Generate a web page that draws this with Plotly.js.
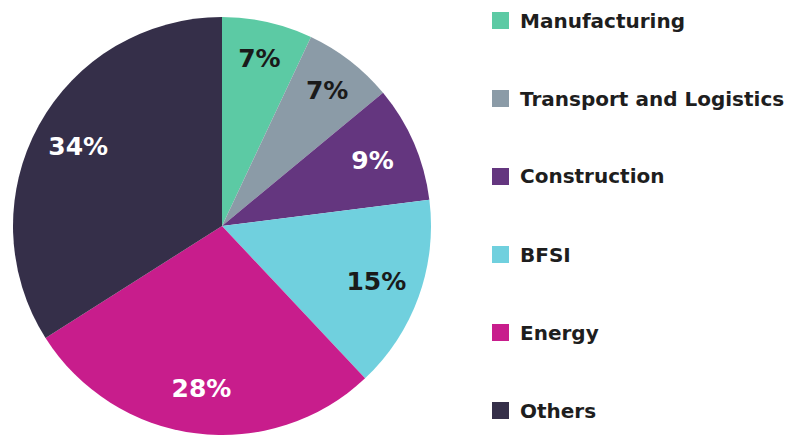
<!DOCTYPE html>
<html><head><meta charset="utf-8">
<script src="https://cdn.plot.ly/plotly-3.0.1.min.js"></script>
<style>html,body{margin:0;padding:0;background:#fff}#chart{width:797px;height:435px}</style>
</head><body><div id="chart"></div>
<script>
const categories = ["Manufacturing","Transport and Logistics","Construction","BFSI","Energy","Others"];
const shares = [7,7,9,15,28,34];
const colors = ["#5ccaa4","#8b9ba7","#64367f","#70d0de","#c81d8c","#352f49"];
const textColors = ["#1a1a1a","#1a1a1a","#ffffff","#1a1a1a","#ffffff","#ffffff"];

const dom = {x: [12/797, 432/797], y: [0, 1 - 17/435]};
const base = {
  type: "pie", labels: categories, values: shares, sort: false,
  direction: "clockwise", rotation: 0, domain: dom, showlegend: false
};
const pie = Object.assign({}, base, {
  marker: {colors: colors, line: {width: 0}},
  textinfo: "none", hoverinfo: "label+percent"
});
const labelRing = Object.assign({}, base, {
  hole: 0.57,
  marker: {colors: categories.map(() => "rgba(0,0,0,0)"), line: {width: 0}},
  texttemplate: "%{value}%",
  textposition: "inside",
  insidetextorientation: "horizontal",
  textfont: {family: "DejaVu Sans", size: 25, weight: 700, color: textColors},
  hoverinfo: "skip"
});

const shapes = [], annotations = [];
const legTop = 20.5, legStep = 78;
categories.forEach((c, i) => {
  const yc = legTop + i * legStep;
  shapes.push({type: "rect", xref: "paper", yref: "paper",
    x0: 492/797, x1: 509/797, y0: 1 - (yc - 8.5)/435, y1: 1 - (yc + 8.5)/435,
    fillcolor: colors[i], line: {width: 0}});
  annotations.push({xref: "paper", yref: "paper", x: 518/797, y: 1 - yc/435,
    xanchor: "left", yanchor: "middle", showarrow: false, text: c,
    font: {family: "DejaVu Sans", size: 20, weight: 700, color: "#1e1e1e"}});
});

Plotly.newPlot("chart", [pie, labelRing], {
  width: 797, height: 435,
  margin: {l: 0, r: 0, t: 0, b: 0},
  paper_bgcolor: "#ffffff",
  shapes: shapes, annotations: annotations
}, {displayModeBar: false, staticPlot: true});
</script></body></html>
